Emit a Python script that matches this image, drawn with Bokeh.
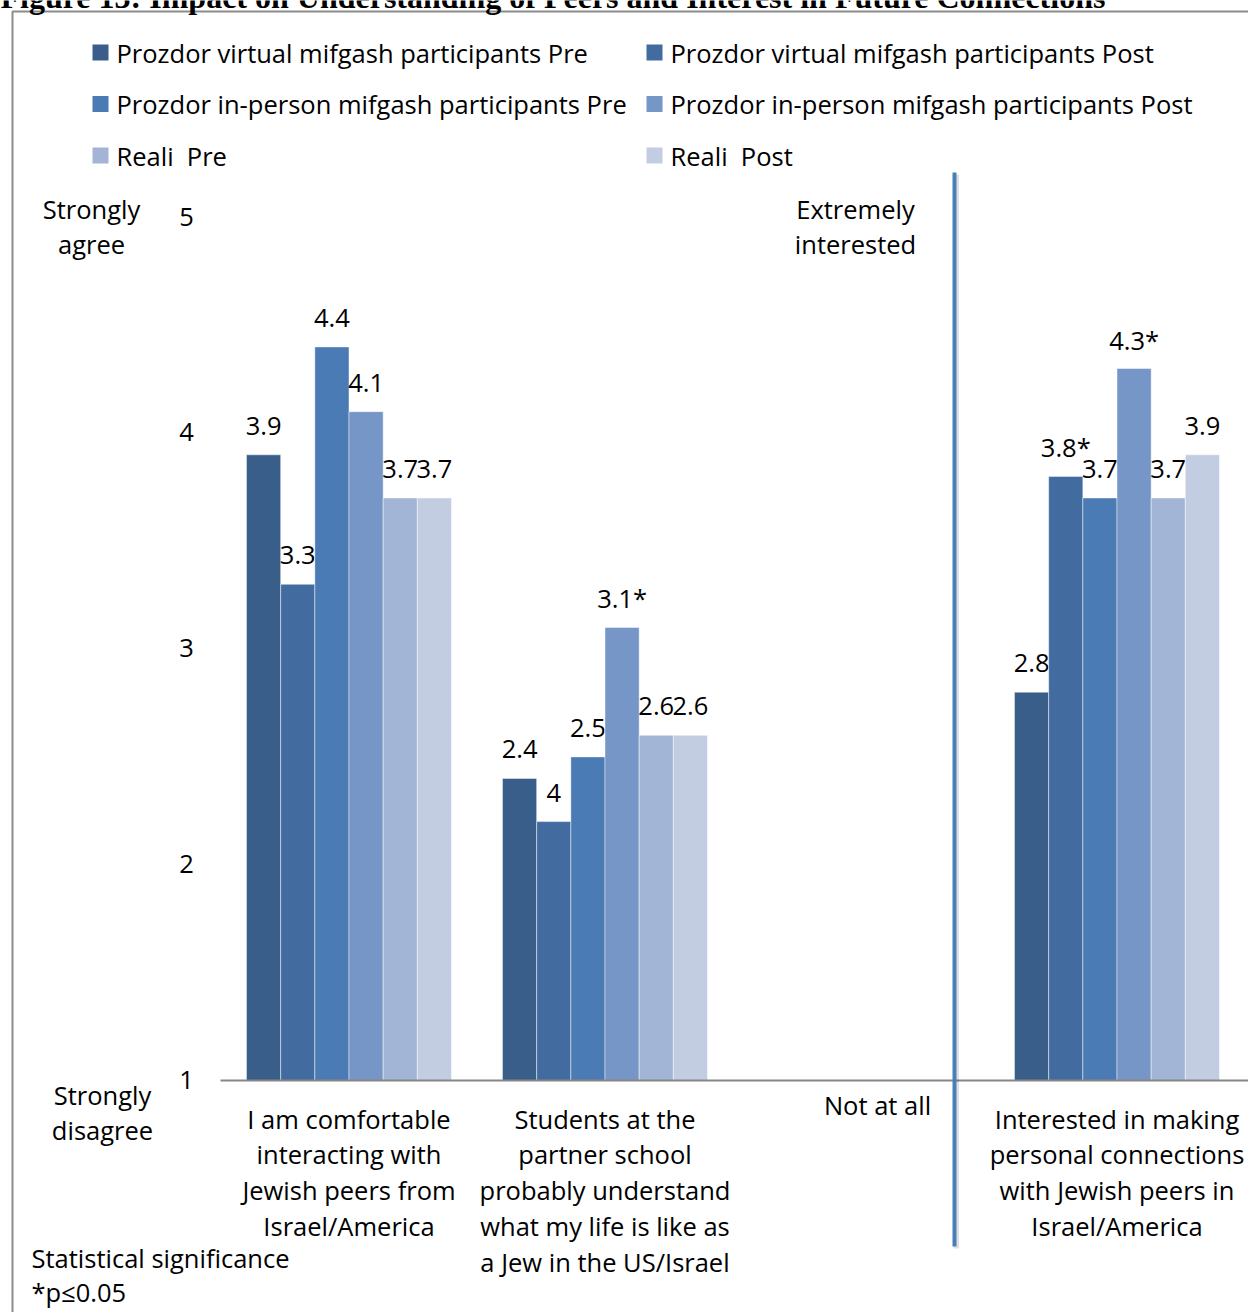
from bokeh.plotting import figure
from bokeh.models import Range1d, ColumnDataSource
from bokeh.embed import file_html
from bokeh.resources import INLINE
from bokeh.core.properties import value

# ---------------------------------------------------------------- data
title_text = "Figure 13: Impact on Understanding of Peers and Interest in Future Connections"

category_lines = [
    ["I am comfortable", "interacting with", "Jewish peers from", "Israel/America"],
    ["Students at the", "partner school", "probably understand",
     "what my life is like as", "a Jew in the US/Israel"],
    [],
    ["Interested in making", "personal connections", "with Jewish peers in",
     "Israel/America"],
]

series_names = [
    "Prozdor virtual mifgash participants Pre",
    "Prozdor virtual mifgash participants Post",
    "Prozdor in-person mifgash participants Pre",
    "Prozdor in-person mifgash participants Post",
    "Reali\u00a0 Pre",
    "Reali\u00a0 Post",
]
series_colors = ["#3a5e8a", "#426c9f", "#4a7bb5", "#7596c6", "#a3b5d6", "#c3cde2"]

virtual_pre = [3.9, 2.4, None, 2.8]
virtual_post = [3.3, 2.2, None, 3.8]
inperson_pre = [4.4, 2.5, None, 3.7]
inperson_post = [4.1, 3.1, None, 4.3]
reali_pre = [3.7, 2.6, None, 3.7]
reali_post = [3.7, 2.6, None, 3.9]

virtual_pre_labels = ["3.9", "2.4", None, "2.8"]
virtual_post_labels = ["3.3", "4", None, "3.8*"]
inperson_pre_labels = ["4.4", "2.5", None, "3.7"]
inperson_post_labels = ["4.1", "3.1*", None, "4.3*"]
reali_pre_labels = ["3.7", "2.6", None, "3.7"]
reali_post_labels = ["3.7", "2.6", None, "3.9"]

y_ticks = [1, 2, 3, 4, 5]
left_top_label = ["Strongly", "agree"]
left_bottom_label = ["Strongly", "disagree"]
right_top_label = ["Extremely", "interested"]
right_bottom_label = "Not at all"
footnote = ["Statistical significance", "*p\u22640.05"]

series_values = [virtual_pre, virtual_post, inperson_pre, inperson_post,
                 reali_pre, reali_post]
series_labels = [virtual_pre_labels, virtual_post_labels, inperson_pre_labels,
                 inperson_post_labels, reali_pre_labels, reali_post_labels]

# ---------------------------------------------------------------- layout
W, H = 1248, 1312
CAT_PX = 256.0          # pixels per category slot
CAT0_PX = 348.5         # pixel centre of the first category
UNIT_PX = 215.75        # pixels per scale point
BASE_PX = 1080.0        # pixel row of scale value 1
GROUP_W = 0.8008        # share of a slot taken by a bar group
BAR_W = GROUP_W / len(series_names)

FONT = value("Open Sans")
FS = "25.5px"
LINE = 35.75
RAISE = 9               # lift applied to every text baseline


def X(px):
    return (px - CAT0_PX) / CAT_PX


def Y(py):
    return 1 + (BASE_PX - py) / UNIT_PX


def TY(py):
    return Y(py - RAISE)


p = figure(width=W, height=H,
           x_range=Range1d(X(0), X(W)), y_range=Range1d(Y(H), Y(0)),
           x_axis_type=None, y_axis_type=None,
           output_backend="svg", toolbar_location=None,
           min_border=0, outline_line_color=None,
           background_fill_color="white", border_fill_color="white")
p.grid.visible = False

# outer frame of the figure box
p.line([X(12), X(12), X(W + 5)], [Y(H + 5), Y(11), Y(11)],
       line_color="#8c8c8c", line_width=2)

# caption running off the top edge
p.text(x=[X(0)], y=[TY(5)], text=[title_text],
       text_font=value("Liberation Serif"), text_font_style="bold",
       text_font_size="32px", text_align="left", text_baseline="alphabetic",
       text_color="black")

# ---------------------------------------------------------------- bars
for j, (vals, labs, color) in enumerate(zip(series_values, series_labels,
                                            series_colors)):
    xs, tops, texts = [], [], []
    for i, (v, t) in enumerate(zip(vals, labs)):
        if v is None:
            continue
        xs.append(i + (j - (len(series_names) - 1) / 2) * BAR_W)
        tops.append(v)
        texts.append(t)
    src = ColumnDataSource(dict(x=xs, top=tops, text=texts))
    p.vbar(x="x", top="top", bottom=1, width=BAR_W, source=src,
           fill_color=color, line_color="white", line_alpha=0.45,
           line_width=1)
    p.text(x="x", y="top", text="text", source=src, y_offset=-20 - RAISE,
           text_font=FONT, text_font_size=FS, text_align="center",
           text_baseline="alphabetic", text_color="black")

# category axis line and divider
p.line([X(220), X(W + 5)], [1, 1], line_color="#868686", line_width=2)
p.line([X(956), X(956)], [Y(174), Y(1248)], line_color="#000000",
       line_alpha=0.12, line_width=5)
p.line([X(954), X(954)], [Y(172), Y(1246)], line_color="#4a7ebb",
       line_width=4)

# ---------------------------------------------------------------- axis texts
p.text(x=[X(186)] * len(y_ticks), y=y_ticks, text=[str(t) for t in y_ticks],
       y_offset=8 - RAISE, text_font=FONT, text_font_size=FS,
       text_align="center", text_baseline="alphabetic", text_color="black")

cx, cy, ct = [], [], []
for i, lines in enumerate(category_lines):
    for k, line in enumerate(lines):
        cx.append(i)
        cy.append(TY(1127 + k * LINE))
        ct.append(line)
for lines, px, py0 in [(left_top_label, 91, 217), (left_bottom_label, 102, 1103),
                       (right_top_label, 855, 217)]:
    for k, line in enumerate(lines):
        cx.append(X(px))
        cy.append(TY(py0 + k * LINE))
        ct.append(line)
cx.append(X(877))
cy.append(TY(1113))
ct.append(right_bottom_label)
p.text(x=cx, y=cy, text=ct, text_font=FONT, text_font_size=FS,
       text_align="center", text_baseline="alphabetic", text_color="black")

p.text(x=[X(31)] * 2, y=[TY(1266), TY(1266 + LINE - 1)], text=footnote,
       text_font=FONT, text_font_size=FS, text_align="left",
       text_baseline="alphabetic", text_color="black")

# ---------------------------------------------------------------- legend
lx, ly, lt, lc = [], [], [], []
for j, name in enumerate(series_names):
    col, row = j % 2, j // 2
    sq_px = 100 if col == 0 else 654
    row_px = 52 + row * 51.5
    lx.append(sq_px)
    ly.append(row_px)
    lt.append(name)
    lc.append(series_colors[j])
p.scatter(x=[X(v) for v in lx], y=[Y(v) for v in ly], marker="square",
          size=16, fill_color=lc, line_color=None)
p.text(x=[X(v + 16) for v in lx], y=[TY(v + 9) for v in ly], text=lt,
       text_font=FONT, text_font_size=FS, text_align="left",
       text_baseline="alphabetic", text_color="black")

open("out.html", "w").write(file_html(p, INLINE))
